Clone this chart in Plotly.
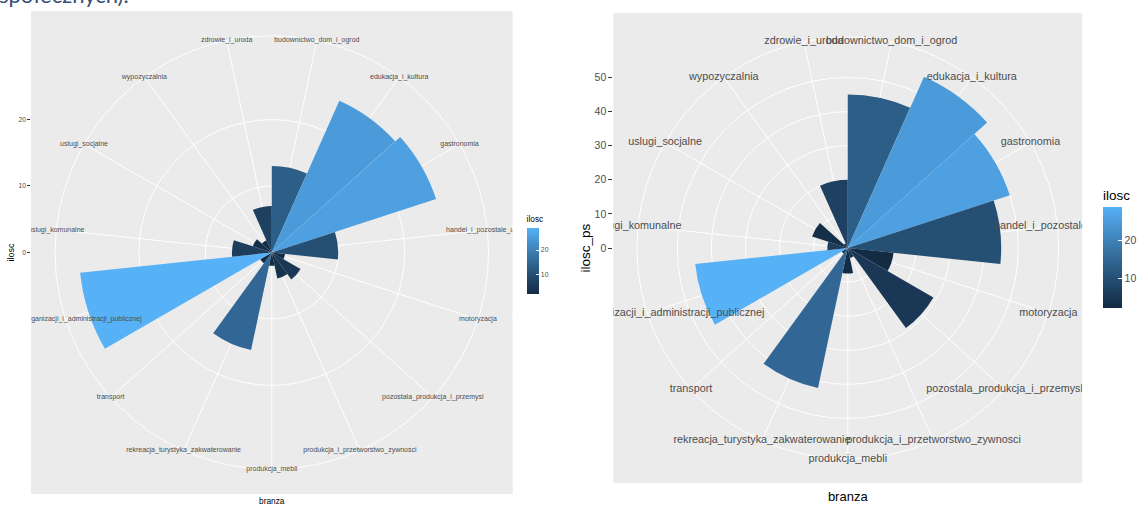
import numpy as np
import plotly.graph_objects as go

W, H = 1141, 506

# ---------------- data ----------------
branza = [
    "budownictwo_dom_i_ogrod", "edukacja_i_kultura", "gastronomia",
    "handel_i_pozostale_uslugi", "motoryzacja", "pozostala_produkcja_i_przemysl",
    "produkcja_i_przetworstwo_zywnosci", "produkcja_mebli",
    "rekreacja_turystyka_zakwaterowanie", "transport",
    "uslugi_dla_organizacji_i_administracji_publicznej", "uslugi_komunalne",
    "uslugi_socjalne", "wypozyczalnia", "zdrowie_i_uroda",
]
ilosc = [13, 25, 26, 10, 2, 5, 4, 2, 15, 2, 29, 6, 3, 2, 7]
ilosc_ps = [45, 55, 50, 45, 13.5, 29, 3, 7.5, 42, 2, 45, 6, 11, 1.5, 20]
r_ticks_left = [0, 10, 20]
r_ticks_right = [0, 10, 20, 30, 40, 50]
cbar_ticks = [10, 20]

# ---------------- colour scale (ggplot default, Lab interpolation) ----------------
M = np.array([[0.4124564, 0.3575761, 0.1804375],
              [0.2126729, 0.7151522, 0.0721750],
              [0.0193339, 0.1191920, 0.9503041]])
MINV = np.linalg.inv(M)
WP = (0.95047, 1.0, 1.08883)


def _lin(c):
    return c / 12.92 if c <= 0.04045 else ((c + 0.055) / 1.055) ** 2.4


def _gam(c):
    return 12.92 * c if c <= 0.0031308 else 1.055 * c ** (1 / 2.4) - 0.055


def _f(t):
    d = 6 / 29
    return t ** (1 / 3) if t > d ** 3 else t / (3 * d * d) + 4 / 29


def _finv(t):
    d = 6 / 29
    return t ** 3 if t > d else 3 * d * d * (t - 4 / 29)


def to_lab(h):
    h = h.lstrip('#')
    rgb = np.array([_lin(int(h[i:i + 2], 16) / 255) for i in (0, 2, 4)])
    x, y, z = M @ rgb
    fx_, fy_, fz_ = _f(x / WP[0]), _f(y / WP[1]), _f(z / WP[2])
    return np.array([116 * fy_ - 16, 500 * (fx_ - fy_), 200 * (fy_ - fz_)])


def from_lab(lab):
    L_, a, b = lab
    fy_ = (L_ + 16) / 116
    fx_ = fy_ + a / 500
    fz_ = fy_ - b / 200
    xyz = np.array([WP[0] * _finv(fx_), WP[1] * _finv(fy_), WP[2] * _finv(fz_)])
    rgb = MINV @ xyz
    rgb = [min(1.0, max(0.0, _gam(max(0.0, c)))) for c in rgb]
    return 'rgb(%d,%d,%d)' % tuple(int(round(c * 255)) for c in rgb)


lo, hi = to_lab("#132B43"), to_lab("#56B1F7")
colorscale = [[float(t), from_lab(lo + t * (hi - lo))] for t in np.linspace(0, 1, 21)]

# ---------------- geometry helpers ----------------
FONT = "Liberation Sans, Arial, sans-serif"
GREY_TXT = "#4D4D4D"


def fx(px):
    return px / W


def fy(px):
    return 1 - px / H


def panel(x0, y0, P):
    cx, cy = x0 + P / 2, y0 + P / 2
    R = 0.45 * P
    return dict(
        xdom=[fx(x0), fx(x0 + P)], ydom=[fy(y0 + P), fy(y0)],
        pxdom=[fx(cx - R), fx(cx + R)], pydom=[fy(cy + R), fy(cy - R)],
    )


L = panel(31, 11, 483)
R = panel(615, 13, 470)
n = len(branza)


def polar_cfg(p, rmax, ticks):
    return dict(
        domain=dict(x=p['pxdom'], y=p['pydom']),
        bgcolor='rgba(0,0,0,0)',
        bargap=0,
        radialaxis=dict(range=[0, rmax * 1.125], tickvals=ticks, showticklabels=False,
                        ticks='', showline=False, gridcolor='white', gridwidth=1,
                        layer='below traces'),
        angularaxis=dict(type='category', categoryarray=branza, rotation=90 - 180 / n,
                         direction='clockwise', showticklabels=False, ticks='',
                         gridcolor='white', gridwidth=1, showline=True,
                         linecolor='white', linewidth=1, layer='below traces'),
    )


fig = go.Figure()

# left chart
fig.add_trace(go.Barpolar(r=ilosc, theta=branza, subplot='polar',
                          marker=dict(color=ilosc, coloraxis='coloraxis', line=dict(width=0)),
                          hoverinfo='skip'))
fig.add_trace(go.Scatterpolar(r=[max(ilosc) * 1.125] * n, theta=branza, subplot='polar',
                              mode='text', text=branza, textposition='middle center',
                              textfont=dict(size=7.0, color=GREY_TXT, family=FONT),
                              cliponaxis=False, hoverinfo='skip'))
# right chart
fig.add_trace(go.Barpolar(r=ilosc_ps, theta=branza, subplot='polar2',
                          marker=dict(color=ilosc, coloraxis='coloraxis2', line=dict(width=0)),
                          hoverinfo='skip'))
fig.add_trace(go.Scatterpolar(r=[max(ilosc_ps) * 1.125] * n, theta=branza, subplot='polar2',
                              mode='text', text=branza, textposition='middle center',
                              textfont=dict(size=10.8, color=GREY_TXT, family=FONT),
                              cliponaxis=False, hoverinfo='skip'))

# cartesian carriers for the ggplot-like r axis on the panel edge
fig.add_trace(go.Scatter(x=[None], y=[None], xaxis='x', yaxis='y', mode='markers',
                         showlegend=False, hoverinfo='skip'))
fig.add_trace(go.Scatter(x=[None], y=[None], xaxis='x2', yaxis='y2', mode='markers',
                         showlegend=False, hoverinfo='skip'))

mL, mR = max(ilosc), max(ilosc_ps)


def cbar(x, ytop, length, thick, fsz, tsz):
    return dict(x=fx(x), xanchor='left', xpad=0, y=fy(ytop), yanchor='top', ypad=0,
                len=length, lenmode='pixels', thickness=thick, thicknessmode='pixels',
                outlinewidth=0, tickvals=cbar_ticks, ticks='inside', ticklen=thick * 0.2,
                tickcolor='white', tickwidth=1,
                tickfont=dict(size=fsz, color=GREY_TXT, family=FONT),
                title=dict(text='ilosc', side='top', font=dict(size=tsz, color='black', family=FONT)))


fig.update_layout(
    width=W, height=H, margin=dict(l=0, r=0, t=0, b=0),
    paper_bgcolor='white', plot_bgcolor='#EBEBEB', showlegend=False,
    font=dict(family=FONT),
    polar=polar_cfg(L, mL, r_ticks_left),
    polar2=polar_cfg(R, mR, r_ticks_right),
    coloraxis=dict(colorscale=colorscale, cmin=min(ilosc), cmax=max(ilosc),
                   colorbar=cbar(528, 213, 81, 12, 6.8, 8.3)),
    coloraxis2=dict(colorscale=colorscale, cmin=min(ilosc), cmax=max(ilosc),
                    colorbar=cbar(1106, 187, 121, 19, 10.5, 13.5)),
    xaxis=dict(domain=L['xdom'], range=[-1, 1], showticklabels=False, ticks='',
               showgrid=False, zeroline=False, showline=False, fixedrange=True,
               title=dict(text='branza', font=dict(size=8.3, color='black'), standoff=6)),
    yaxis=dict(domain=L['ydom'], range=[-1.25 * mL, 1.25 * mL], tickvals=r_ticks_left,
               ticks='outside', ticklen=2.5, tickwidth=1, tickcolor='#333333',
               tickfont=dict(size=6.8, color=GREY_TXT), showgrid=False, zeroline=False,
               showline=False, fixedrange=True,
               title=dict(text='ilosc', font=dict(size=9, color='black'), standoff=2)),
    xaxis2=dict(domain=R['xdom'], range=[-1, 1], anchor='y2', showticklabels=False,
                ticks='', showgrid=False, zeroline=False, showline=False, fixedrange=True,
                title=dict(text='branza', font=dict(size=13, color='black'), standoff=8)),
    yaxis2=dict(domain=R['ydom'], range=[-1.25 * mR, 1.25 * mR], anchor='x2',
                tickvals=r_ticks_right, ticks='outside', ticklen=4, tickwidth=1,
                tickcolor='#333333', tickfont=dict(size=10.5, color=GREY_TXT),
                showgrid=False, zeroline=False, showline=False, fixedrange=True,
                title=dict(text='ilosc_ps', font=dict(size=13.5, color='black'), standoff=0)),
)

# white masks: ggplot clips theta labels to the panel rectangle
masks = [(0, 31, 223, 237), (0, 31, 313, 327),
         (514, 615, 221, 237), (514, 615, 306, 321),
         (1085, 1141, 219, 234), (1085, 1141, 382, 397)]
for x0, x1, y0, y1 in masks:
    fig.add_shape(type='rect', xref='paper', yref='paper', x0=fx(x0), x1=fx(x1),
                  y0=fy(y1), y1=fy(y0), fillcolor='white', line=dict(width=0), layer='above')

# slide text cut off at the top
fig.add_annotation(text='społecznych).', xref='paper', yref='paper', x=fx(-3), y=fy(-6),
                   xanchor='left', yanchor='middle', showarrow=False,
                   font=dict(size=22, color='#34507A', family='Lato'))

fig.write_html("out.html", config={'displayModeBar': False},
               post_script="document.body.style.margin='0';document.body.style.overflow='hidden';")
